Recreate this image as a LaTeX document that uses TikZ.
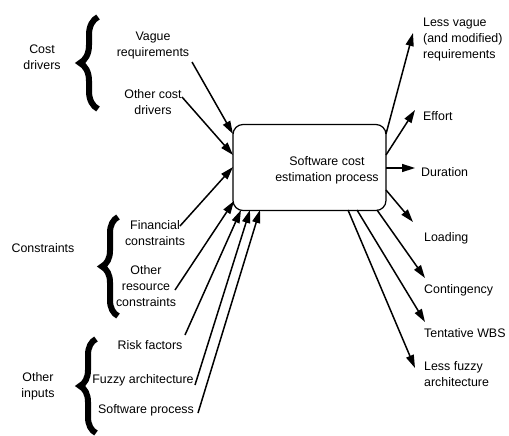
\documentclass[tikz,border=0pt]{standalone}
\usepackage{fontspec}
\setmainfont{Liberation Sans}
\usetikzlibrary{arrows.meta,decorations.pathreplacing}
\begin{document}
\begin{tikzpicture}[x=1pt,y=-1pt,
  lbl/.style={font=\fontsize{12.4}{16}\selectfont, align=center, inner sep=0pt},
  rlbl/.style={lbl, align=left, anchor=west},
  arr/.style={line width=1.5pt, -{Triangle[length=13pt,width=8pt]}},
  bigbrace/.style={decorate, decoration={brace, amplitude=#1}, line width=6pt},
  procbox/.style={draw, line width=1.2pt, rounded corners=10pt, minimum width=153pt, minimum height=86pt, inner sep=0pt}]
\useasboundingbox (0,0) rectangle (509,436);

% central box
\node[procbox] (box) at (309.5,167.5) {};
\node[lbl] (boxtext) at (327,170) {Software cost\\estimation process};

% left group labels
\node[lbl] (costdrivers) at (42,57) {Cost\\drivers};
\node[lbl] (constraints) at (43,248) {Constraints};
\node[lbl] (otherinputs) at (38,386) {Other\\inputs};

% braces
\draw[bigbrace=18pt] (98,109) -- (98,17);
\draw[bigbrace=16pt] (118,316) -- (118,217);
\draw[bigbrace=16pt] (96,433) -- (96,339);

% left input labels
\node[lbl] (vague) at (153,46) {Vague\\requirements};
\node[lbl] (othercost) at (153,102) {Other cost\\drivers};
\node[lbl] (financial) at (155,233) {Financial\\constraints};
\node[lbl] (otherres) at (146,286) {Other\\resource\\constraints};
\node[lbl] (risk) at (150,345) {Risk factors};
\node[lbl] (fuzzy) at (143,380) {Fuzzy architecture};
\node[lbl] (softproc) at (146,410) {Software process};

% input start points and targets
\coordinate (s1) at (192,62);
\coordinate (s2) at (182,97);
\coordinate (s3) at (180,226);
\coordinate (s4) at (175,290);
\coordinate (s5) at (185,335);
\coordinate (s6) at (195,385);
\coordinate (s7) at (198,413);
\coordinate (t1) at (233,134);
\coordinate (t2) at (233,155);
\coordinate (t3) at (233,167);
\coordinate (t4) at (234,201);
\coordinate (t5) at (241,210);
\coordinate (t6) at (250,210);
\coordinate (t7) at (260,210);

\draw[arr] (s1) -- (t1);
\draw[arr] (s2) -- (t2);
\draw[arr] (s3) -- (t3);
\draw[arr] (s4) -- (t4);
\draw[arr] (s5) -- (t5);
\draw[arr] (s6) -- (t6);
\draw[arr] (s7) -- (t7);

% right output labels
\node[rlbl] (lessvague) at (423,40) {Less vague\\(and modified)\\requirements};
\node[rlbl] (effort) at (423,116) {Effort};
\node[rlbl] (duration) at (421,172) {Duration};
\node[rlbl] (loading) at (424,238) {Loading};
\node[rlbl] (contingency) at (424,290) {Contingency};
\node[rlbl] (wbs) at (424,333) {Tentative WBS};
\node[rlbl] (lessfuzzy) at (424,374) {Less fuzzy\\architecture};

% output start points and tips
\coordinate (o1) at (386,134);
\coordinate (o2) at (386,155);
\coordinate (o3) at (386,168);
\coordinate (o4) at (386,190);
\coordinate (o5) at (377,210);
\coordinate (o6) at (357,210);
\coordinate (o7) at (348,210);
\coordinate (p1) at (413,33);
\coordinate (p2) at (415,110);
\coordinate (p3) at (415,168);
\coordinate (p4) at (413,222);
\coordinate (p5) at (425,278);
\coordinate (p6) at (425,322);
\coordinate (p7) at (415,368);

\draw[arr] (o1) -- (p1);
\draw[arr] (o2) -- (p2);
\draw[arr] (o3) -- (p3);
\draw[arr] (o4) -- (p4);
\draw[arr] (o5) -- (p5);
\draw[arr] (o6) -- (p6);
\draw[arr] (o7) -- (p7);
\end{tikzpicture}
\end{document}
